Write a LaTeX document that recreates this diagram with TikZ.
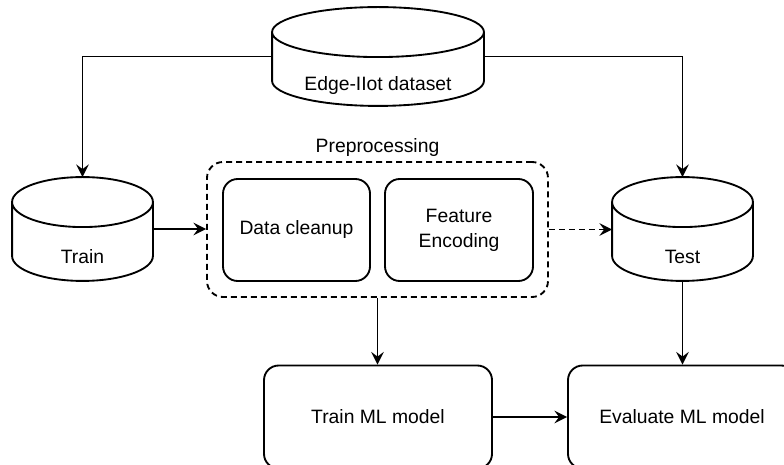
\documentclass[tikz,border=0pt]{standalone}
\usepackage{fontspec}
\setmainfont{Liberation Sans}
\usetikzlibrary{arrows.meta,calc}

% outline of a data store drawn round a named node
\newcommand{\dbshape}[1]{%
  \draw let \p1=(#1.north west), \p2=(#1.south east), \n1={(\x2-\x1)/2} in
    (\x1,\y1-18.75pt) -- (\x1,\y2+18.75pt)
    arc[start angle=180, end angle=360, x radius=\n1, y radius=18.75pt]
    -- (\x2,\y1-18.75pt)
    arc[start angle=0, end angle=360, x radius=\n1, y radius=18.75pt];}

\begin{document}
\begin{tikzpicture}[x=0.75pt, y=0.75pt, line width=1.4pt,
    font=\fontsize{14.5}{18.75}\selectfont,
    database/.style={minimum width=104.25pt, minimum height=76.5pt, inner sep=0pt},
    stage/.style={draw, rounded corners=11pt, minimum height=76.5pt, align=center},
    group/.style={draw, dash pattern=on 4.5pt off 3pt, rounded corners=12pt,
                  minimum width=255.75pt, minimum height=101.25pt},
    link/.style={-{Stealth[length=9.5pt, width=9.5pt, inset=3.5pt]}}]
   \useasboundingbox (0,0) rectangle (784,464);
   \clip (0,0) rectangle (784,464);

   % data stores
   \node[database, minimum width=157.5pt, minimum height=72.75pt] (dataset)
        [label={[anchor=base, yshift=-22pt]center:Edge-IIot dataset}] at (378,407.5) {};
   \node[database] (train) [label={[anchor=base, yshift=-21pt]center:Train}] at (82.5,235) {};
   \node[database] (test) [label={[anchor=base, yshift=-21pt]center:Test}] at (682.5,235) {};
   \dbshape{dataset}
   \dbshape{train}
   \dbshape{test}

   % preprocessing steps
   \node[group] (prep)
        [label={[inner sep=0pt, label distance=2.5pt]above:Preprocessing}] at (377.5,234.5) {};
   \node[stage, minimum width=110.25pt] (cleanup) at (296.5,234) {Data cleanup};
   \node[stage, minimum width=111pt] (encoding) at (459,234) {Feature\\Encoding};

   % model steps
   \node[stage, minimum width=171pt, minimum height=77.25pt] (trainml) at (378,47) {Train ML model};
   \node[stage, minimum width=171pt, minimum height=77.25pt] (evalml) at (682,47) {Evaluate ML model};

   \draw[link] (dataset.west) -| (train.north);
   \draw[link] (dataset.east) -| (test.north);
   \draw[link] (train.east) -- (train.east -| prep.west);
   \draw[link, dash pattern=on 4.5pt off 3pt] (prep.east) -- (prep.east -| test.west);
   \draw[link] (prep.south) -- (prep.south |- trainml.north);
   \draw[link] (test.south) -- (test.south |- evalml.north);
   \draw[link] (trainml.east) -- (evalml.west);
\end{tikzpicture}
\end{document}
